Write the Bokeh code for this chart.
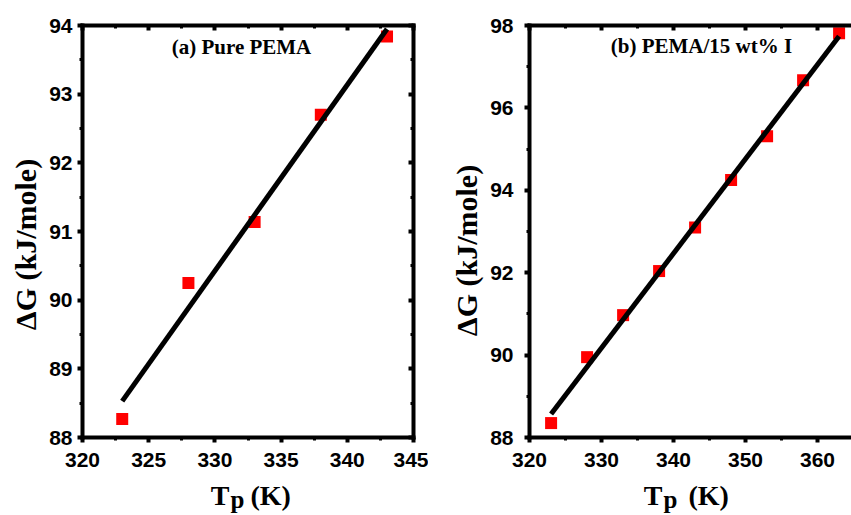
import numpy as np
from bokeh.plotting import figure
from bokeh.models import (LinearAxis, SingleIntervalTicker, Range1d, Label,
                          CustomJSTickFormatter)
from bokeh.layouts import row
from bokeh.embed import file_html
from bokeh.resources import INLINE

# ---------------- data ----------------
a_tp = [323, 328, 333, 338, 343]
a_dg = [88.27, 90.25, 91.14, 92.70, 93.84]
a_fit_tp = [323, 343]
a_fit_dg = [88.53, 93.95]

b_tp = [323, 328, 333, 338, 343, 348, 353, 358, 363]
b_dg = [88.35, 89.95, 90.97, 92.04, 93.10, 94.25, 95.31, 96.67, 97.81]
b_fit_tp = [323, 363]
b_fit_dg = [88.57, 97.74]

a_xlim = (320, 345)
a_ylim = (88, 94)
b_xlim = (320, 360)          # b's x axis continues past the picture edge
b_ylim = (88, 98)

a_title = "(a) Pure PEMA"
b_title = "(b) PEMA/15 wt% I"
y_label = "ΔG (kJ/mole)"
x_label_main = "T"
x_label_sub = "p"
x_label_unit = "(K)"

SANS = "Liberation Sans"
SERIF = "Liberation Serif"
H = 515


def span(v0, v1, p0, p1, size):
    """Range so that value v0 sits at pixel p0 and v1 at pixel p1 of a canvas of `size`."""
    scale = (p1 - p0) / (v1 - v0)
    return Range1d(v0 - p0 / scale, v0 + (size - p0) / scale)


def style_axis(ax, mirror=False, standoff=6):
    ax.axis_line_width = 4
    ax.axis_line_color = "black"
    ax.axis_line_cap = "square"
    ax.major_tick_line_width = 4
    ax.minor_tick_line_width = 3
    ax.major_tick_line_color = "black"
    ax.minor_tick_line_color = "black"
    if mirror:
        ax.major_tick_out = 0
        ax.major_tick_in = 5
        ax.minor_tick_out = 0
        ax.minor_tick_in = 3
        ax.formatter = CustomJSTickFormatter(code="return ''")
        ax.major_label_standoff = 0
    else:
        ax.major_tick_out = 5
        ax.major_tick_in = 0
        ax.minor_tick_out = 3
        ax.minor_tick_in = 0
        ax.major_label_text_font = SANS
        ax.major_label_text_font_style = "bold"
        ax.major_label_text_font_size = "21px"
        ax.major_label_text_color = "black"
        ax.major_label_standoff = standoff


def lab(p, x, y, text, size, align="left", baseline="alphabetic", angle=0.0):
    p.add_layout(Label(x=x, y=y, x_units="screen", y_units="screen", text=text,
                       angle=angle, text_font=SERIF, text_font_style="bold",
                       text_font_size=size, text_align=align,
                       text_baseline=baseline, text_color="black"))


def panel(tp, dg, fit_tp, fit_dg, title, xlim, ylim, xint, yint, W,
          xpx, ypx, x_end_visible, right_axis, y_standoff,
          title_xy, ylab_xy, xlab_anchor, unit_gap):
    xr = span(xlim[0], xlim[1], xpx[0], xpx[1], W)
    yr = span(ylim[0], ylim[1], H - ypx[0], H - ypx[1], H)
    p = figure(width=W, height=H, x_range=xr, y_range=yr,
               x_axis_location=None, y_axis_location=None,
               output_backend="svg", toolbar_location=None,
               min_border=0, min_border_left=0, min_border_right=0,
               min_border_top=0, min_border_bottom=0)
    p.grid.visible = False
    p.outline_line_color = None

    xend = xr.end if x_end_visible else xlim[1]
    xt = SingleIntervalTicker(interval=xint, num_minor_ticks=2)
    yt = SingleIntervalTicker(interval=yint, num_minor_ticks=2)

    bottom = LinearAxis(ticker=xt, fixed_location=ylim[0], bounds=(xlim[0], xend))
    style_axis(bottom, standoff=10)
    left = LinearAxis(ticker=yt, fixed_location=xlim[0], bounds=ylim)
    style_axis(left, standoff=y_standoff)
    top = LinearAxis(ticker=xt, fixed_location=ylim[1], bounds=(xlim[0], xend))
    style_axis(top, mirror=True)
    p.add_layout(bottom, "below")
    p.add_layout(left, "left")
    p.add_layout(top, "above")
    if right_axis:
        right = LinearAxis(ticker=yt, fixed_location=xlim[1], bounds=ylim)
        style_axis(right, mirror=True)
        p.add_layout(right, "right")

    p.scatter(tp, dg, marker="square", size=12, fill_color="#ff0000",
              line_color=None)
    p.line(fit_tp, fit_dg, line_color="black", line_width=5)

    lab(p, title_xy[0], H - title_xy[1], title, "21px", align="center",
        baseline="middle")
    lab(p, ylab_xy[0], H - ylab_xy[1], y_label, "30px", align="center",
        baseline="middle", angle=np.pi / 2)
    lab(p, xlab_anchor, H - 495, x_label_main, "28px", align="right")
    lab(p, xlab_anchor + 1, H - 499, x_label_sub, "25px")
    lab(p, xlab_anchor + unit_gap, H - 495, x_label_unit, "28px")
    return p


p1 = panel(a_tp, a_dg, a_fit_tp, a_fit_dg, a_title, a_xlim, a_ylim, 5, 1, 428,
           (82, 413), (437, 25), False, True, 5,
           (241, 46), (25, 244), 229, 21)
p2 = panel(b_tp, b_dg, b_fit_tp, b_fit_dg, b_title, b_xlim, b_ylim, 10, 2, 423,
           (101, 389), (437, 25), True, False, 11,
           (273, 45), (38, 250), 234, 26)

layout = row(p1, p2)
open("out.html", "w").write(file_html(layout, INLINE))
